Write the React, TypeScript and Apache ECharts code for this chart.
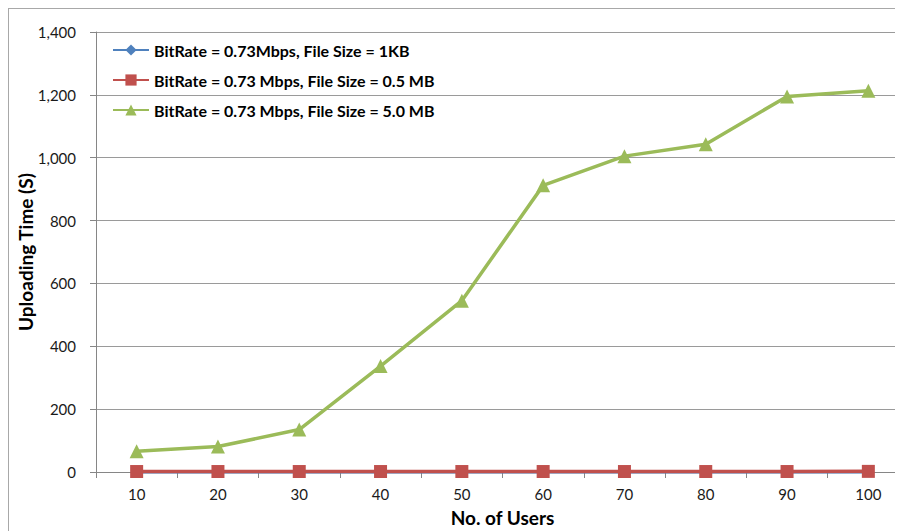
import React, { useEffect, useRef } from "react";
import * as echarts from "echarts";

const categories = ["10", "20", "30", "40", "50", "60", "70", "80", "90", "100"];
const series1KB = [0.2, 0.2, 0.2, 0.2, 0.2, 0.2, 0.2, 0.2, 0.2, 0.2];
const series05MB = [1.5, 1.5, 1.5, 1.5, 1.5, 1.5, 1.5, 1.5, 1.5, 2];
const series5MB = [66, 81, 135, 337, 545, 912, 1005, 1043, 1195, 1213];
const seriesNames = [
  "BitRate = 0.73Mbps, File Size = 1KB",
  "BitRate = 0.73 Mbps, File Size = 0.5 MB",
  "BitRate = 0.73 Mbps, File Size = 5.0 MB",
];
const yTicks = { min: 0, max: 1400, interval: 200 };

const FONT = "Lato, 'Open Sans', sans-serif";

export default function App() {
  const ref = useRef<HTMLDivElement>(null);
  useEffect(() => {
    if (!ref.current) return;
    const chart = echarts.init(ref.current, null, { renderer: "svg" });
    chart.setOption({
      animation: false,
      textStyle: { fontFamily: FONT },
      grid: { left: 87, top: 23, right: 10, bottom: 67, outerBoundsMode: "none", containLabel: false },
      legend: {
        orient: "vertical",
        left: 103,
        top: 33,
        padding: 0,
        itemWidth: 36,
        itemHeight: 14,
        itemGap: 14,
        textStyle: { fontFamily: FONT, fontWeight: "bold", fontSize: 16, color: "#000" },
        data: seriesNames,
      },
      xAxis: {
        type: "category",
        data: categories,
        boundaryGap: true,
        name: "No. of Users",
        nameLocation: "middle",
        nameGap: 36,
        nameMoveOverlap: false,
        nameTextStyle: { fontFamily: FONT, fontWeight: "bold", fontSize: 19, color: "#000" },
        axisLine: { lineStyle: { color: "#868686", width: 1 } },
        axisTick: { show: true, length: 6, lineStyle: { color: "#868686" } },
        axisLabel: { fontSize: 15, color: "#1a1a1a", margin: 14, fontFamily: FONT },
        splitLine: { show: false },
      },
      yAxis: {
        type: "value",
        min: yTicks.min,
        max: yTicks.max,
        interval: yTicks.interval,
        name: "Uploading Time (S)",
        nameLocation: "middle",
        nameGap: 61,
        nameMoveOverlap: false,
        nameTextStyle: { fontFamily: FONT, fontWeight: "bold", fontSize: 19, color: "#000" },
        axisLine: { show: true, lineStyle: { color: "#868686", width: 1 } },
        axisTick: { show: true, length: 6, lineStyle: { color: "#868686" } },
        axisLabel: {
          fontSize: 15,
          color: "#1a1a1a",
          margin: 20,
          fontFamily: FONT,
          formatter: (v: number) => v.toLocaleString("en-US"),
        },
        splitLine: { show: true, lineStyle: { color: "#9a9a9a", width: 1 } },
      },
      series: [
        {
          name: seriesNames[0],
          type: "line",
          data: series1KB,
          symbol: "diamond",
          symbolSize: 10,
          itemStyle: { color: "#4F81BD" },
          lineStyle: { color: "#4F81BD", width: 3.5 },
        },
        {
          name: seriesNames[1],
          type: "line",
          data: series05MB,
          symbol: "rect",
          symbolSize: 13,
          itemStyle: { color: "#C0504D" },
          lineStyle: { color: "#C0504D", width: 3.5 },
        },
        {
          name: seriesNames[2],
          type: "line",
          data: series5MB,
          symbol: "triangle",
          symbolSize: 14,
          itemStyle: { color: "#9BBB59" },
          lineStyle: { color: "#9BBB59", width: 3.5 },
        },
      ],
    });
    return () => chart.dispose();
  }, []);
  return (
    <div style={{ borderLeft: "1px solid #a8a8a8", borderTop: "1px solid #a8a8a8", width: 910, height: 530 }}>
      <div ref={ref} style={{ width: 910, height: 530 }} />
    </div>
  );
}
